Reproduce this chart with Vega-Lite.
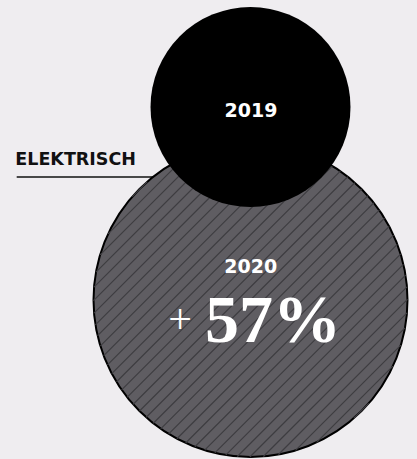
{
  "$schema": "https://vega.github.io/schema/vega-lite/v6.json",
  "width": 417,
  "height": 459,
  "autosize": {"type": "none"},
  "padding": 0,
  "background": "#efedf0",
  "config": {"view": {"stroke": null}},
  "data": {
    "values": [
      {"category": "ELEKTRISCH", "year": 2019, "value": 100, "change": null},
      {"category": "ELEKTRISCH", "year": 2020, "value": 157, "change": 0.57}
    ]
  },
  "encoding": {
    "x": {"field": "category", "type": "nominal", "axis": null, "scale": {"type": "point", "padding": 0, "domain": ["ELEKTRISCH"], "range": [250.5, 250.5]}},
    "y": {"field": "year", "type": "ordinal", "axis": null, "scale": {"type": "point", "padding": 0, "domain": [2019, 2020], "range": [107, 300]}}
  },
  "layer": [
    {
      "transform": [{"filter": "datum.year == 2019"}],
      "mark": {"type": "rule", "stroke": "#111111", "strokeWidth": 1.5, "xOffset": -233.8, "x2Offset": -85, "yOffset": 70},
      "encoding": {"x2": {"field": "category"}}
    },
    {
      "transform": [{"filter": "datum.year == 2020"}],
      "mark": {"type": "circle", "fill": "#5f5d62", "stroke": "#000000", "strokeWidth": 2, "opacity": 1},
      "encoding": {"size": {"field": "value", "type": "quantitative", "legend": null, "scale": {"type": "pow", "exponent": 2, "domain": [0, 100], "range": [0, 40000]}}}
    },
    {
      "transform": [{"filter": "datum.year == 2020"}],
      "mark": {"type": "point", "filled": false, "opacity": 1, "stroke": "#3e3d41", "strokeWidth": 1.2,
        "shape": "M0.707,-0.707L-0.707,0.707M0.747,-0.664L-0.664,0.747M0.785,-0.619L-0.619,0.785M0.821,-0.572L-0.572,0.821M0.853,-0.521L-0.521,0.853M0.884,-0.469L-0.469,0.884M0.911,-0.413L-0.413,0.911M0.935,-0.354L-0.354,0.935M0.956,-0.292L-0.292,0.956M0.974,-0.227L-0.227,0.974M0.988,-0.158L-0.158,0.988M0.997,-0.084L-0.084,0.997M1.000,-0.004L-0.004,1.000M0.997,0.082L0.082,0.997M0.984,0.178L0.178,0.984M0.958,0.287L0.287,0.958M0.907,0.421L0.421,0.907M0.753,0.658L0.658,0.753M0.664,-0.747L-0.747,0.664M0.619,-0.785L-0.785,0.619M0.572,-0.821L-0.821,0.572M0.521,-0.853L-0.853,0.521M0.469,-0.884L-0.884,0.469M0.413,-0.911L-0.911,0.413M0.354,-0.935L-0.935,0.354M0.292,-0.956L-0.956,0.292M0.227,-0.974L-0.974,0.227M0.158,-0.988L-0.988,0.158M0.084,-0.997L-0.997,0.084M0.004,-1.000L-1.000,0.004M-0.082,-0.997L-0.997,-0.082M-0.178,-0.984L-0.984,-0.178M-0.287,-0.958L-0.958,-0.287M-0.421,-0.907L-0.907,-0.421M-0.658,-0.753L-0.753,-0.658"},
      "encoding": {"size": {"field": "value", "type": "quantitative", "legend": null, "scale": {"type": "pow", "exponent": 2, "domain": [0, 100], "range": [0, 40000]}}}
    },
    {
      "transform": [{"filter": "datum.year == 2019"}],
      "mark": {"type": "circle", "fill": "#000000", "opacity": 1},
      "encoding": {"size": {"field": "value", "type": "quantitative", "legend": null, "scale": {"type": "pow", "exponent": 2, "domain": [0, 100], "range": [0, 40000]}}}
    },
    {
      "transform": [{"filter": "datum.year == 2019"}],
      "mark": {"type": "text", "font": "DejaVu Sans", "fontWeight": "bold", "fontSize": 19, "fill": "#ffffff", "align": "center", "baseline": "alphabetic", "dx": 0.5, "dy": 9.7},
      "encoding": {"text": {"field": "year", "type": "ordinal"}}
    },
    {
      "transform": [{"filter": "datum.year == 2020"}],
      "mark": {"type": "text", "font": "DejaVu Sans", "fontWeight": "bold", "fontSize": 19, "fill": "#ffffff", "align": "center", "baseline": "alphabetic", "dx": 0.3, "dy": -26.7},
      "encoding": {"text": {"field": "year", "type": "ordinal"}}
    },
    {
      "transform": [{"filter": "datum.year == 2020"}],
      "mark": {"type": "text", "text": "+", "font": "Liberation Serif", "fontWeight": "normal", "fontSize": 42, "fill": "#ffffff", "align": "center", "baseline": "alphabetic", "dx": -70.5, "dy": 33}
    },
    {
      "transform": [{"filter": "datum.year == 2020"}],
      "mark": {"type": "text", "font": "Liberation Serif", "fontWeight": "bold", "fontSize": 68, "fill": "#ffffff", "align": "left", "baseline": "alphabetic", "dx": -45.5, "dy": 42},
      "encoding": {"text": {"field": "change", "type": "quantitative", "format": ".0%"}}
    },
    {
      "transform": [{"filter": "datum.year == 2019"}],
      "mark": {"type": "text", "font": "DejaVu Sans", "fontWeight": "bold", "fontSize": 17.5, "fill": "#111111", "align": "left", "baseline": "alphabetic", "dx": -235.2, "dy": 58},
      "encoding": {"text": {"field": "category", "type": "nominal"}}
    }
  ]
}
